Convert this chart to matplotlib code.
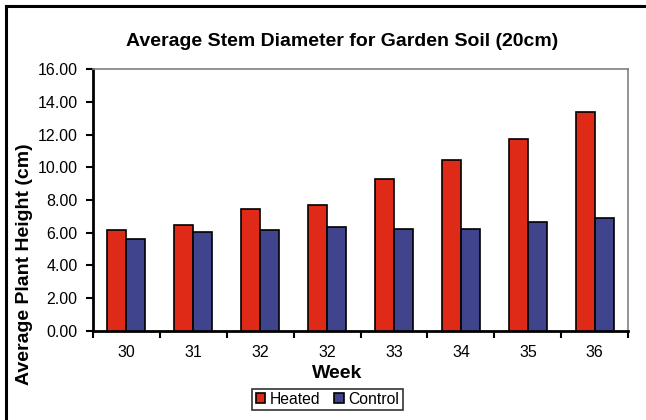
import matplotlib
matplotlib.use("Agg")
import matplotlib.pyplot as plt
import numpy as np
from matplotlib.lines import Line2D

plt.rcParams['font.family'] = ['Liberation Sans', 'DejaVu Sans']

weeks = ["30", "31", "32", "32", "33", "34", "35", "36"]
heated = [6.15, 6.48, 7.45, 7.70, 9.28, 10.47, 11.75, 13.38]
control = [5.60, 6.02, 6.15, 6.35, 6.22, 6.22, 6.65, 6.90]

fig = plt.figure(figsize=(6.46, 4.20), dpi=100)
ax = fig.add_axes([0.1435, 0.2126, 0.9726 - 0.1435, 0.835 - 0.2126])

x = np.arange(len(weeks))
w = 0.285
ax.bar(x - w / 2, heated, w, color="#E02A18", edgecolor="black", linewidth=1.2, label="Heated", zorder=3)
ax.bar(x + w / 2, control, w, color="#40448C", edgecolor="black", linewidth=1.2, label="Control", zorder=3)

ax.set_xlim(-0.5, len(weeks) - 0.5)
ax.set_ylim(0, 16)
yt = np.arange(0, 16.01, 2)
ax.set_yticks(yt)
ax.set_yticklabels([f"{v:.2f}" for v in yt], fontsize=11.5)
ax.set_xticks(x)
ax.set_xticklabels(weeks, fontsize=11.5)
ax.set_xticks(np.arange(-0.5, len(weeks)), minor=True)
ax.tick_params(axis='x', which='major', length=0, pad=10)
ax.tick_params(axis='x', which='minor', length=5, width=1.5, direction='out')
ax.tick_params(axis='y', length=5, width=1.5, direction='out', pad=6)

for s in ['left', 'bottom']:
    ax.spines[s].set_linewidth(2)
    ax.spines[s].set_color('black')
for s in ['top', 'right']:
    ax.spines[s].set_linewidth(1.2)
    ax.spines[s].set_color('#808080')

fig.text(0.529, 0.9, "Average Stem Diameter for Garden Soil (20cm)", ha='center', va='center',
         fontsize=14, fontweight='bold')
fig.text(0.522, 0.11, "Week", ha='center', va='center', fontsize=14, fontweight='bold')
fig.text(0.0385, 0.372, "Average Plant Height (cm)", rotation=90, ha='center', va='center',
         fontsize=14, fontweight='bold')

leg = fig.legend(loc='center', bbox_to_anchor=(0.507, 0.049), ncol=2, fontsize=11.3,
                 frameon=True, fancybox=False, edgecolor='black', handlelength=0.6,
                 handleheight=0.6, handletextpad=0.3, columnspacing=0.9,
                 borderpad=0.2)
leg.get_frame().set_linewidth(1.2)

fig.add_artist(Line2D([6 / 646, 1.0], [1 - 6 / 420, 1 - 6 / 420], color='black', lw=2.2,
                      transform=fig.transFigure))
fig.add_artist(Line2D([6 / 646, 6 / 646], [0, 1 - 6 / 420], color='black', lw=2.2,
                      transform=fig.transFigure))

fig.savefig("out.png", dpi=100, facecolor='white')
